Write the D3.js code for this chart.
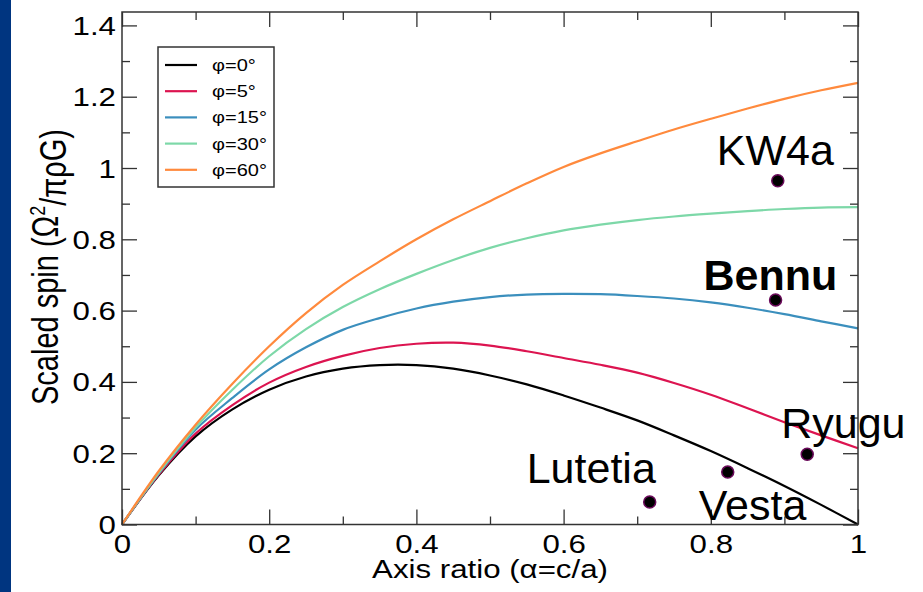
<!DOCTYPE html>
<html>
<head>
<meta charset="utf-8">
<script src="https://cdn.jsdelivr.net/npm/d3@7"></script>
<style>
  body { margin: 0; background: #fff; }
  text { font-family: "Liberation Sans", Arial, sans-serif; }
</style>
</head>
<body>
<div id="SpinChart"></div>
<script>

 // axis ratio samples (alpha = c/a)
 var axisRatio = [0, 0.05, 0.1, 0.15, 0.2, 0.25, 0.3, 0.35, 0.4, 0.45, 0.5,
                  0.55, 0.6, 0.65, 0.7, 0.75, 0.8, 0.85, 0.9, 0.95, 1];

 // scaled spin for each friction angle
 var spinPhi0  = [0, 0.138, 0.247, 0.323, 0.378, 0.415, 0.437, 0.447, 0.447, 0.437, 0.418,
                  0.393, 0.362, 0.328, 0.292, 0.25, 0.206, 0.158, 0.108, 0.055, 0];
 var spinPhi5  = [0, 0.14, 0.255, 0.335, 0.398, 0.442, 0.473, 0.495, 0.507, 0.51, 0.502,
                  0.486, 0.467, 0.448, 0.426, 0.397, 0.364, 0.326, 0.287, 0.25, 0.214];
 var spinPhi15 = [0, 0.143, 0.266, 0.355, 0.435, 0.497, 0.546, 0.579, 0.606, 0.625, 0.638,
                  0.645, 0.647, 0.646, 0.641, 0.634, 0.623, 0.608, 0.59, 0.57, 0.55];
 var spinPhi30 = [0, 0.145, 0.272, 0.378, 0.472, 0.548, 0.61, 0.66, 0.703, 0.742, 0.776,
                  0.803, 0.825, 0.841, 0.854, 0.864, 0.872, 0.879, 0.885, 0.889, 0.89];
 var spinPhi60 = [0, 0.15, 0.28, 0.395, 0.5, 0.593, 0.672, 0.738, 0.8, 0.856, 0.907,
                  0.957, 1.003, 1.041, 1.075, 1.108, 1.138, 1.167, 1.194, 1.218, 1.239];

 var seriesNames  = ["\u03c6=0\u00b0", "\u03c6=5\u00b0", "\u03c6=15\u00b0", "\u03c6=30\u00b0", "\u03c6=60\u00b0"];
 var seriesValues = [spinPhi0, spinPhi5, spinPhi15, spinPhi30, spinPhi60];
 var seriesColours = ["#000000", "#dc1450", "#3b8fbd", "#7dd8a8", "#ff8a3d"];

 // bodies
 var bodyNames  = ["KW4a", "Bennu", "Ryugu", "Vesta", "Lutetia"];
 var bodyRatio  = [0.891, 0.888, 0.931, 0.823, 0.717];
 var bodySpin   = [0.964, 0.63, 0.197, 0.147, 0.063];

 var xTicks = [0, 0.2, 0.4, 0.6, 0.8, 1];
 var yTicks = [0, 0.2, 0.4, 0.6, 0.8, 1, 1.2, 1.4];

 var width = 923, height = 592,
     stretch = 1.25; // the plot text is drawn wider than it is tall

 var svg = d3.select('#SpinChart').append('svg')
     .attr('width', width)
     .attr('height', height);

 // dark blue strip on the left edge
 svg.append('rect')
     .attr('x', 0).attr('y', 0)
     .attr('width', 11).attr('height', height)
     .attr('fill', '#003580');

 var x = d3.scaleLinear().domain([0, 1]).range([122, 858]);
 var y = d3.scaleLinear().domain([0, 1.4376]).range([524.5, 12]);

 // ===========================================================================================
 // curves
 var line = d3.line()
     .x(function(d, i) { return x(axisRatio[i]); })
     .y(function(d) { return y(d); })
     .curve(d3.curveCatmullRom.alpha(0.5));

 svg.append('g').attr('class', 'curves')
     .selectAll('path')
     .data(seriesValues)
     .enter().append('path')
     .attr('d', line)
     .attr('fill', 'none')
     .attr('stroke', function(d, i) { return seriesColours[i]; })
     .attr('stroke-width', 2.2);

 // ===========================================================================================
 // axes, ticks pointing inwards on all four sides
 function minorTicks(axis, g, vals) {
     g.call(axis.tickValues(vals).tickSize(-8).tickFormat(''));
     g.select('.domain').remove();
 }

 var fmt = d3.format('~g');

 var gx = svg.append('g').attr('transform', 'translate(0,' + y(0) + ')');
 minorTicks(d3.axisBottom(x), gx.append('g'), d3.range(0.1, 1, 0.2));
 gx.append('g').call(d3.axisBottom(x).tickValues(xTicks).tickSize(-15).tickFormat(fmt));

 var gxt = svg.append('g').attr('transform', 'translate(0,' + y.range()[1] + ')');
 minorTicks(d3.axisTop(x), gxt.append('g'), d3.range(0.1, 1, 0.2));
 gxt.append('g').call(d3.axisTop(x).tickValues(xTicks).tickSize(-15).tickFormat(''));

 var gy = svg.append('g').attr('transform', 'translate(' + x(0) + ',0)');
 minorTicks(d3.axisLeft(y), gy.append('g'), d3.range(0.1, 1.41, 0.2));
 gy.append('g').call(d3.axisLeft(y).tickValues(yTicks).tickSize(-15).tickFormat(fmt));

 var gyr = svg.append('g').attr('transform', 'translate(' + x(1) + ',0)');
 minorTicks(d3.axisRight(y), gyr.append('g'), d3.range(0.1, 1.41, 0.2));
 gyr.append('g').call(d3.axisRight(y).tickValues(yTicks).tickSize(-15).tickFormat(''));

 svg.selectAll('.tick line').attr('stroke', '#333').attr('stroke-width', 1.3);
 svg.selectAll('.domain').remove();

 // tick labels, stretched sideways like the original
 gx.selectAll('.tick text')
     .attr('y', null).attr('dy', null)
     .attr('transform', 'translate(0,28) scale(' + stretch + ',1)')
     .style('font-size', '25px').attr('fill', '#000')
     .style('font-family', '"Liberation Sans", Arial, sans-serif');

 gy.selectAll('.tick text')
     .attr('x', null).attr('dy', null)
     .attr('transform', 'translate(-6,9) scale(' + stretch + ',1)')
     .style('font-size', '25px').attr('fill', '#000')
     .style('font-family', '"Liberation Sans", Arial, sans-serif');

 // frame
 svg.append('rect')
     .attr('x', x(0)).attr('y', y.range()[1])
     .attr('width', x(1) - x(0)).attr('height', y(0) - y.range()[1])
     .attr('fill', 'none')
     .attr('stroke', '#333')
     .attr('stroke-width', 1.5);

 // ===========================================================================================
 // axis titles
 svg.append('text')
     .attr('transform', 'translate(490,578) scale(' + stretch + ',1)')
     .attr('text-anchor', 'middle')
     .style('font-size', '25px')
     .text('Axis ratio (\u03b1=c/a)');

 var ylab = svg.append('text')
     .attr('transform', 'translate(58,267) scale(' + stretch + ',1) rotate(-90)')
     .attr('text-anchor', 'middle')
     .style('font-size', '29px');
 ylab.append('tspan').text('Scaled spin (\u03a9');
 ylab.append('tspan').attr('dy', '-0.6em').style('font-size', '18px').text('2');
 ylab.append('tspan').attr('dy', '0.6em').text('/\u03c0\u03c1G)');

 // ===========================================================================================
 // legend
 var legend = svg.append('g').attr('class', 'legend')
     .attr('transform', 'translate(158,47)');

 legend.append('rect')
     .attr('width', 116).attr('height', 140)
     .attr('fill', '#fff')
     .attr('stroke', '#333')
     .attr('stroke-width', 1.5);

 var item = legend.selectAll('.item')
     .data(seriesNames)
     .enter().append('g')
     .attr('class', 'item')
     .attr('transform', function(d, i) { return 'translate(0,' + (18 + i * 26.2) + ')'; });

 item.append('line')
     .attr('x1', 7).attr('x2', 39)
     .attr('stroke', function(d, i) { return seriesColours[i]; })
     .attr('stroke-width', 2.2);

 item.append('text')
     .attr('transform', 'translate(54,6) scale(' + stretch + ',1)')
     .style('font-size', '16px')
     .text(function(d) { return d; });

 // ===========================================================================================
 // bodies: dots and names
 var bodies = bodyNames.map(function(n, i) {
     return { name: n, ratio: bodyRatio[i], spin: bodySpin[i] };
 });

 // label offsets from the dot, in pixels
 var labelOffset = {
     'KW4a':    [-61, -16],
     'Bennu':   [-72, -10],
     'Ryugu':   [-26, -16],
     'Vesta':   [-29, 48],
     'Lutetia': [-123, -19]
 };

 svg.append('g').attr('class', 'bodies')
     .selectAll('circle')
     .data(bodies)
     .enter().append('circle')
     .attr('cx', function(d) { return x(d.ratio); })
     .attr('cy', function(d) { return y(d.spin); })
     .attr('r', 6)
     .attr('fill', '#000')
     .attr('stroke', '#6a0a5a')
     .attr('stroke-width', 1.5);

 svg.append('g').attr('class', 'bodyNames')
     .selectAll('text')
     .data(bodies)
     .enter().append('text')
     .attr('x', function(d) { return x(d.ratio) + labelOffset[d.name][0]; })
     .attr('y', function(d) { return y(d.spin) + labelOffset[d.name][1]; })
     .style('font-size', '43px')
     .style('font-weight', function(d) { return d.name == 'Bennu' ? 'bold' : 'normal'; })
     .text(function(d) { return d.name; });

</script>
</body>
</html>
